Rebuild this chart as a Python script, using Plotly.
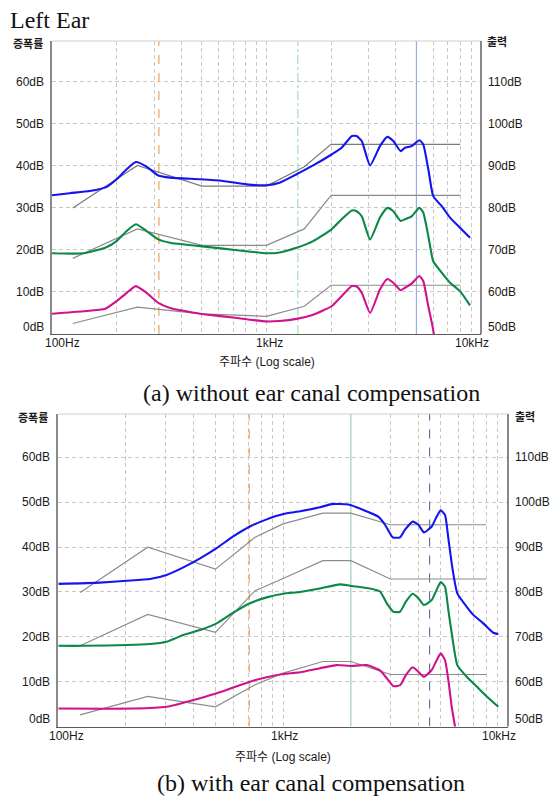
import math
import plotly.graph_objects as go

W, H = 554, 797

# ---- axis labels -------------------------------------------------------
x_tick_vals = [100, 1000, 10000]
x_tick_text = ["100Hz", "1kHz", "10kHz"]
y_tick_vals = [0, 10, 20, 30, 40, 50, 60]
y_tick_text = ["0dB", "10dB", "20dB", "30dB", "40dB", "50dB", "60dB"]
out_tick_text = ["50dB", "60dB", "70dB", "80dB", "90dB", "100dB", "110dB"]
grid_freqs = [m * d for d in (100, 1000) for m in range(1, 10)] + [10000]

# ---- (a) without ear canal compensation --------------------------------
a_blue_f = [100, 121, 150, 180, 200, 223, 246, 276, 313, 355, 490, 627, 808, 1000, 1150,
            1380, 1650, 2010, 2240, 2500, 2630, 2780, 3040, 3380, 3660, 3900, 4220, 4420,
            4750, 5160, 5380, 5680, 5990, 6560, 7170, 7980, 8890]
a_blue_db = [33.0, 33.5, 34.0, 35.0, 36.8, 39.2, 40.9, 39.8, 37.7, 37.2, 36.8, 36.4, 35.6, 35.4,
             36.0, 38.0, 40.1, 42.7, 44.3, 47.1, 47.1, 45.9, 40.1, 44.7, 46.9, 45.9, 43.5, 44.3,
             44.7, 46.1, 45.1, 39.2, 32.8, 30.4, 27.7, 25.3, 22.9]

a_green_f = [100, 140, 177, 200, 223, 246, 276, 313, 355, 490, 627, 808, 1000, 1150,
             1380, 1650, 2010, 2240, 2500, 2630, 2780, 3040, 3380, 3660, 3900, 4220, 4420,
             4750, 5160, 5380, 5680, 5990, 6560, 7170, 7980, 8890]
a_green_db = [19.2, 19.2, 20.5, 22.1, 24.5, 26.1, 24.5, 22.5, 21.7, 20.9, 20.3, 19.7, 19.2, 19.4,
              20.5, 22.1, 24.9, 27.3, 29.4, 29.2, 28.0, 22.5, 27.7, 30.0, 29.2, 26.9, 27.3,
              28.0, 30.0, 28.9, 23.3, 17.3, 14.6, 12.2, 10.2, 6.8]

a_mag_f = [100, 140, 177, 200, 223, 246, 276, 313, 355, 490, 627, 808, 1000, 1150,
           1380, 1650, 2010, 2240, 2500, 2630, 2780, 3040, 3380, 3660, 3900, 4220, 4420,
           4750, 5160, 5380, 5680, 5960, 6150]
a_mag_db = [4.8, 5.4, 6.0, 7.8, 9.8, 11.4, 9.8, 7.4, 6.2, 4.8, 4.2, 3.5, 3.0, 3.1,
            3.6, 4.6, 6.6, 9.0, 11.4, 11.3, 9.8, 5.0, 10.6, 13.1, 12.2, 10.4, 11.0,
            12.0, 13.8, 12.6, 6.6, 1.5, -3.0]

a_target_f = [125, 250, 500, 1000, 1500, 2000, 3000, 4000, 6000, 8000]
a_target_hi = [30.0, 40.1, 35.2, 35.2, 39.8, 45.1, 45.1, 45.1, 45.1, 45.1]
a_target_mid = [18.0, 25.0, 21.1, 21.1, 25.0, 33.0, 33.0, 33.0, 33.0, 33.0]
a_target_lo = [2.5, 6.4, 4.8, 4.2, 6.6, 11.6, 11.6, 11.6, 11.6, 11.6]

a_marker_f = [315, 1400, 5000]

# ---- (b) with ear canal compensation -----------------------------------
b_blue_f = [100, 153, 201, 256, 303, 360, 427, 506, 600, 712, 845, 1002, 1189, 1458, 1644,
            1949, 2273, 2650, 2838, 3071, 3309, 3483, 3770, 3993, 4231, 4578, 4784, 5019,
            5246, 5427, 5677, 5950, 6552, 7010, 7767, 8602, 9056]
b_blue_db = [31.8, 32.1, 32.5, 32.9, 33.8, 35.5, 37.5, 39.8, 42.4, 44.6, 46.2, 47.4, 48.0, 48.9,
             49.6, 49.5, 48.3, 46.8, 45.0, 42.2, 42.2, 43.9, 45.7, 45.0, 43.3, 44.6, 46.5, 48.2,
             47.2, 42.0, 34.9, 29.7, 26.7, 24.9, 23.0, 20.9, 20.6]

b_green_f = [100, 129, 256, 303, 360, 427, 506, 600, 712, 845, 1002, 1189, 1458, 1789, 1983,
             2434, 2697, 2887, 3090, 3309, 3519, 3770, 3993, 4231, 4578, 4818, 5019, 5246,
             5427, 5677, 5950, 6552, 7258, 8042, 9056]
b_green_db = [18.0, 18.0, 18.4, 18.9, 20.4, 21.5, 23.0, 25.4, 27.5, 28.8, 29.6, 30.0, 30.8, 31.7,
              31.4, 30.8, 30.1, 27.5, 25.6, 25.6, 27.9, 29.6, 28.6, 27.1, 28.2, 30.5, 32.2, 31.2,
              26.0, 19.3, 13.7, 11.1, 8.9, 6.7, 4.4]

b_mag_f = [100, 216, 303, 360, 427, 506, 600, 712, 845, 1002, 1189, 1458, 1730, 1983, 2353,
           2697, 2887, 3090, 3309, 3519, 3770, 3993, 4231, 4578, 4818, 5019, 5246, 5427,
           5619, 5812, 5950]
b_mag_db = [4.0, 4.0, 4.4, 5.3, 6.3, 7.4, 8.7, 10.0, 11.0, 11.7, 12.1, 13.0, 13.7, 13.5, 13.7,
            12.5, 10.8, 9.0, 9.2, 11.5, 13.2, 12.2, 11.1, 12.6, 14.8, 16.3, 14.8, 10.4,
            4.4, 0.0, -3.0]

b_target_f = [125, 250, 500, 750, 1000, 1500, 2000, 3000, 4000, 6000, 8000]
b_target_hi = [29.9, 40.0, 35.1, 42.2, 45.2, 47.6, 47.6, 45.0, 45.0, 45.0, 45.0]
b_target_mid = [18.0, 25.0, 21.0, 30.3, 33.0, 37.0, 37.0, 32.9, 32.9, 32.9, 32.9]
b_target_lo = [2.6, 6.7, 4.4, 9.3, 11.9, 14.5, 14.5, 11.6, 11.6, 11.6, 11.6]

b_marker_f = [707, 2000, 4480]

# ---- styling -----------------------------------------------------------
Y_TOP = 69.7
BLUE, GREEN, MAGENTA, GRAY = "#1414f0", "#0a8848", "#d0128c", "#8c8c8c"
GRID = "#c8c8c8"
TICK_FONT = dict(family="Liberation Sans, Arial, sans-serif", size=12, color="#1a1a1a")
KR_FONT = dict(family="Liberation Sans, Noto Sans CJK KR, sans-serif", size=12, color="#1a1a1a")
SERIF = dict(family="Liberation Serif, Times New Roman, serif", size=24, color="#111111")

panels = [
    dict(px=(52, 481), py=(41, 334), measured=[(a_blue_f, a_blue_db, BLUE),
                                              (a_green_f, a_green_db, GREEN),
                                              (a_mag_f, a_mag_db, MAGENTA)],
         target_f=a_target_f, targets=[a_target_hi, a_target_mid, a_target_lo],
         target_colors=["#7a7a7a", GRAY, GRAY],
         markers=a_marker_f,
         marker_styles=[("#f4a868", "dash", 1.3), ("#a8dcb8", "dashdot", 1.2), ("#9caae4", "solid", 1.2)],
         zero_shift=7, x_shift=(-9, 3, 10), axis_title_gap=28,
         kr_left=(27.5, 44), kr_right=(497, 42)),
    dict(px=(58.3, 508), py=(414, 726.5), measured=[(b_blue_f, b_blue_db, BLUE),
                                                   (b_green_f, b_green_db, GREEN),
                                                   (b_mag_f, b_mag_db, MAGENTA)],
         target_f=b_target_f, targets=[b_target_hi, b_target_mid, b_target_lo],
         target_colors=[GRAY, GRAY, GRAY],
         markers=b_marker_f,
         marker_styles=[("#f0a870", "dash", 1.2), ("#a8d8c0", "solid", 1.3), ("#5e6a9c", "dash", 1.1)],
         zero_shift=8, x_shift=(-11, 1, 10), axis_title_gap=30,
         kr_left=(32.5, 417.5), kr_right=(524.7, 417)),
]

fig = go.Figure()
annotations = []
shapes = []
layout_axes = {}

for i, p in enumerate(panels, start=1):
    xa = "x" if i == 1 else f"x{i}"
    ya = "y" if i == 1 else f"y{i}"
    x0, x1 = p["px"]
    yt, yb = p["py"]
    layout_axes["xaxis" if i == 1 else f"xaxis{i}"] = dict(
        type="log", range=[2, 4], domain=[x0 / W, x1 / W], anchor=ya,
        tickvals=grid_freqs, showticklabels=False, ticks="",
        showgrid=True, gridcolor=GRID, griddash="4px,3px", gridwidth=1,
        showline=True, linecolor="#5a5a5a", linewidth=1.3, zeroline=False, fixedrange=True)
    layout_axes["yaxis" if i == 1 else f"yaxis{i}"] = dict(
        range=[0, Y_TOP], domain=[1 - yb / H, 1 - yt / H], anchor=xa,
        tickvals=y_tick_vals[1:], showticklabels=False, ticks="",
        showgrid=True, gridcolor=GRID, griddash="4px,3px", gridwidth=1,
        showline=True, linecolor="#8a8a8a", linewidth=1.6, zeroline=False, fixedrange=True)

    # frame: light top edge and dark right-hand output axis
    shapes.append(dict(type="line", xref=f"{xa} domain", yref=f"{ya} domain",
                       x0=0, x1=1, y0=1, y1=1, line=dict(color="#cfcfcf", width=1)))
    shapes.append(dict(type="line", xref=f"{xa} domain", yref=f"{ya} domain",
                       x0=1, x1=1, y0=0, y1=1, line=dict(color="#4a4a4a", width=1.3)))

    # vertical reference markers
    for f, (col, dash, w) in zip(p["markers"], p["marker_styles"]):
        fig.add_trace(go.Scatter(x=[f, f], y=[0, Y_TOP], mode="lines",
                                 line=dict(color=col, dash=dash, width=w),
                                 hoverinfo="skip", showlegend=False, xaxis=xa, yaxis=ya))

    # target curves
    for tgt, tcol in zip(p["targets"], p["target_colors"]):
        fig.add_trace(go.Scatter(x=p["target_f"], y=tgt, mode="lines",
                                 line=dict(color=tcol, width=1.2),
                                 showlegend=False, xaxis=xa, yaxis=ya))

    # measured responses
    for f, db, col in p["measured"]:
        fig.add_trace(go.Scatter(x=f, y=db, mode="lines",
                                 line=dict(color=col, width=2.1, shape="spline", smoothing=0.5),
                                 showlegend=False, xaxis=xa, yaxis=ya))

    # dB labels on both sides
    for v, lt, rt in zip(y_tick_vals, y_tick_text, out_tick_text):
        ys = p["zero_shift"] if v == 0 else 0
        annotations.append(dict(text=lt, xref=f"{xa} domain", x=0, xanchor="right", xshift=-6,
                                yref=ya, y=v, yanchor="middle", yshift=ys,
                                showarrow=False, font=TICK_FONT))
        annotations.append(dict(text=rt, xref=f"{xa} domain", x=1, xanchor="left", xshift=5,
                                yref=ya, y=v, yanchor="middle", yshift=ys,
                                showarrow=False, font=TICK_FONT))

    # frequency labels
    anchors = ["left", "center", "right"]
    for f, t, anc, sh in zip(x_tick_vals, x_tick_text, anchors, p["x_shift"]):
        annotations.append(dict(text=t, xref=xa, x=math.log10(f), xanchor=anc, xshift=sh,
                                yref=f"{ya} domain", y=0, yanchor="top", yshift=0,
                                showarrow=False, font=TICK_FONT))

    annotations.append(dict(text="주파수 (Log scale)", xref=f"{xa} domain", x=0.5, xanchor="center",
                            yref=f"{ya} domain", y=0, yanchor="middle", yshift=-p["axis_title_gap"],
                            showarrow=False, font=KR_FONT))
    lx, ly = p["kr_left"]
    annotations.append(dict(text="<b>증폭률</b>", xref="paper", x=lx / W, xanchor="center",
                            yref="paper", y=1 - ly / H, yanchor="middle",
                            showarrow=False, font=dict(KR_FONT, size=11)))
    rx, ry = p["kr_right"]
    annotations.append(dict(text="<b>출력</b>", xref="paper", x=rx / W, xanchor="center",
                            yref="paper", y=1 - ry / H, yanchor="middle",
                            showarrow=False, font=dict(KR_FONT, size=11)))

annotations.append(dict(text="Left Ear", xref="paper", x=8 / W, xanchor="left",
                        yref="paper", y=1 - 20 / H, yanchor="middle", showarrow=False, font=SERIF))
annotations.append(dict(text="(a) without ear canal compensation", xref="paper", x=311.5 / W,
                        xanchor="center", yref="paper", y=1 - 393 / H, yanchor="middle",
                        showarrow=False, font=SERIF))
annotations.append(dict(text="(b) with ear canal compensation", xref="paper", x=311 / W,
                        xanchor="center", yref="paper", y=1 - 783 / H, yanchor="middle",
                        showarrow=False, font=SERIF))

fig.update_layout(width=W, height=H, autosize=False,
                  margin=dict(l=0, r=0, t=0, b=0),
                  paper_bgcolor="white", plot_bgcolor="white",
                  showlegend=False, annotations=annotations, shapes=shapes,
                  **layout_axes)

fig.write_html("out.html", config={"displayModeBar": False})
